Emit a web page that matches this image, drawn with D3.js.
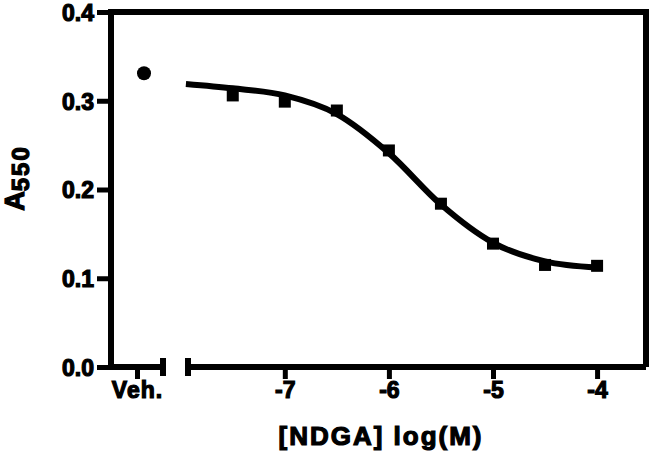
<!DOCTYPE html>
<html>
<head>
<meta charset="utf-8">
<script src="https://cdn.jsdelivr.net/npm/d3@7"></script>
<style>
  body { margin: 0; background: #fff; }
  text { font-family: "Liberation Sans", Arial, sans-serif; font-weight: bold; fill: #000; stroke: #000; stroke-width: 1.2px; }
</style>
</head>
<body>
<svg width="650" height="452"></svg>
<script>
// ***********************************
// Data

// vehicle control
var vehLabel = ["Veh."];
var vehA550 = [0.331];

// NDGA doses, log(M), and measured A550
var logConc = [-7.5, -7, -6.5, -6, -5.5, -5, -4.5, -4];
var a550 = [0.306, 0.299, 0.289, 0.244, 0.184, 0.139, 0.115, 0.114];

// fitted dose-response curve
var fitLogConc = [-7.95, -7.5, -7, -6.5, -6, -5.5, -5, -4.5, -4];
var fitA550 = [0.319, 0.314, 0.306, 0.285, 0.241, 0.183, 0.140, 0.119, 0.112];

// ticks
var yTicks = [0, 0.1, 0.2, 0.3, 0.4];
var yTickLabels = ["0.0", "0.1", "0.2", "0.3", "0.4"];
var xTicks = [-7, -6, -5, -4];
var xTickLabels = ["-7", "-6", "-5", "-4"];

// ***********************************
// Layout
var svg = d3.select("svg");
var plotLeft = 111, plotRight = 646, plotTop = 12, plotBottom = 367;
var lw = 6;

var y = d3.scaleLinear().domain([0, 0.4]).range([plotBottom, plotTop]);
// log-dose segment of the broken x axis
var x = d3.scaleLinear().domain([-7.93, -3.53]).range([188, plotRight]);
// vehicle segment
var xVeh = d3.scalePoint().domain(vehLabel).range([109, 165]).padding(0.5);

// frame: left axis, top and right border
svg.append("path")
  .attr("d", "M" + plotLeft + "," + plotBottom + "V" + plotTop + "H" + plotRight + "V" + plotBottom)
  .attr("fill", "none")
  .attr("stroke", "#000")
  .attr("stroke-width", lw)
  .attr("stroke-linejoin", "miter");

// y axis ticks + labels
var yAxis = svg.append("g")
  .attr("transform", "translate(" + plotLeft + ",0)")
  .call(d3.axisLeft(y).tickValues(yTicks).tickSize(14).tickPadding(3)
    .tickFormat(function(d, i) { return yTickLabels[i]; }));
yAxis.select(".domain").remove();
yAxis.selectAll("line").attr("stroke-width", lw - 1);
yAxis.selectAll("text").attr("font-size", 23).attr("dy", "0.36em");

// x axis: vehicle segment (starts at the y axis, capped at its right end)
var vehSeg = svg.append("g");
vehSeg.append("line")
  .attr("x1", plotLeft).attr("x2", 165).attr("y1", plotBottom).attr("y2", plotBottom)
  .attr("stroke", "#000").attr("stroke-width", lw);
vehSeg.append("line")
  .attr("x1", 163).attr("x2", 163).attr("y1", plotBottom - 9).attr("y2", plotBottom + 9)
  .attr("stroke", "#000").attr("stroke-width", lw);
var xAxisVeh = svg.append("g")
  .attr("transform", "translate(0," + plotBottom + ")")
  .call(d3.axisBottom(xVeh).tickSize(12).tickPadding(3));
xAxisVeh.select(".domain").remove();
xAxisVeh.selectAll("line").attr("stroke-width", lw - 1);
xAxisVeh.selectAll("text").attr("font-size", 23).attr("letter-spacing", 1);

// x axis: dose segment
svg.append("line")
  .attr("x1", x.range()[0]).attr("x2", plotRight)
  .attr("y1", plotBottom).attr("y2", plotBottom)
  .attr("stroke", "#000").attr("stroke-width", lw);
svg.append("line")
  .attr("x1", x.range()[0]).attr("x2", x.range()[0])
  .attr("y1", plotBottom - 9).attr("y2", plotBottom + 9)
  .attr("stroke", "#000").attr("stroke-width", lw);
var xAxis = svg.append("g")
  .attr("transform", "translate(0," + plotBottom + ")")
  .call(d3.axisBottom(x).tickValues(xTicks).tickSize(12).tickPadding(3)
    .tickFormat(function(d, i) { return xTickLabels[i]; }));
xAxis.select(".domain").remove();
xAxis.selectAll("line").attr("stroke-width", lw - 1);
xAxis.selectAll("text").attr("font-size", 23);

// axis titles
svg.append("text")
  .attr("x", 381).attr("y", 445)
  .attr("text-anchor", "middle")
  .attr("font-size", 26)
  .attr("letter-spacing", 2)
  .text("[NDGA] log(M)");

var yTitle = svg.append("text")
  .attr("transform", "translate(24,178) rotate(-90)")
  .attr("text-anchor", "middle")
  .attr("font-size", 27);
yTitle.append("tspan").text("A");
yTitle.append("tspan").attr("font-size", 24).attr("dy", 5).attr("letter-spacing", 2).text("550");

// fitted curve
var line = d3.line()
  .x(function(d) { return x(d[0]); })
  .y(function(d) { return y(d[1]); })
  .curve(d3.curveMonotoneX);
svg.append("path")
  .datum(d3.zip(fitLogConc, fitA550))
  .attr("d", line)
  .attr("fill", "none")
  .attr("stroke", "#000")
  .attr("stroke-width", 6);

// dose points (filled squares)
var sq = 12;
svg.append("g").selectAll("rect")
  .data(d3.zip(logConc, a550))
  .enter().append("rect")
  .attr("x", function(d) { return x(d[0]) - sq / 2; })
  .attr("y", function(d) { return y(d[1]) - sq / 2; })
  .attr("width", sq).attr("height", sq)
  .attr("fill", "#000");

// vehicle point
svg.append("g").selectAll("circle")
  .data(d3.zip(vehLabel, vehA550))
  .enter().append("circle")
  .attr("cx", function(d) { return xVeh(d[0]) + 7; })
  .attr("cy", function(d) { return y(d[1]); })
  .attr("r", 7)
  .attr("fill", "#000");
</script>
</body>
</html>
